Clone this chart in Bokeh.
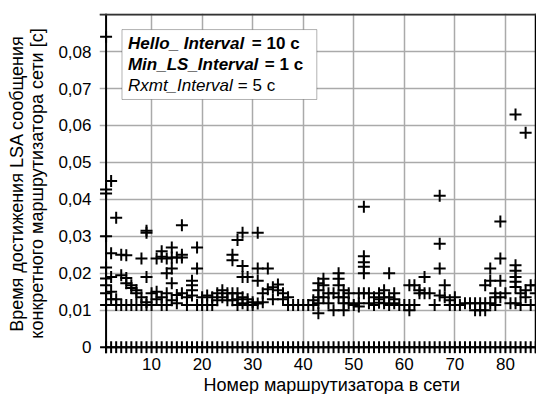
from bokeh.plotting import figure
from bokeh.models import (FixedTicker, CustomJSTickFormatter, Span, BoxAnnotation,
                          Label, ColumnDataSource, Title)
from bokeh.embed import file_html
from bokeh.resources import INLINE

# ---------------- data ----------------
router_ids = list(range(1, 87))
# non-zero LSA arrival times per router (s); every router also has a 0 value
delays = {
    1: [0.084, 0.0427, 0.0416, 0.030, 0.0216, 0.0186, 0.0168, 0.0146, 0.0114],
    2: [0.045, 0.0254, 0.019, 0.015, 0.013],
    3: [0.035, 0.013, 0.0114],
    4: [0.025, 0.0195, 0.0114],
    5: [0.0249, 0.0187, 0.0173, 0.0114],
    6: [0.0168, 0.016, 0.0114],
    7: [0.0154, 0.0146, 0.0114],
    8: [0.024, 0.0135, 0.0114],
    9: [0.0315, 0.031, 0.019, 0.0122, 0.0114],
    10: [0.0146, 0.0114],
    11: [0.024, 0.015, 0.013],
    12: [0.026, 0.0245, 0.0135, 0.0114],
    13: [0.024, 0.020, 0.0146, 0.0114],
    14: [0.027, 0.0243, 0.0213, 0.0173, 0.0127],
    15: [0.0243, 0.0141, 0.0119],
    16: [0.033, 0.025, 0.0243, 0.0146],
    17: [0.0135, 0.0114],
    18: [0.018, 0.0168, 0.0154, 0.014],
    19: [0.027, 0.0213, 0.0114],
    20: [0.0135, 0.0114],
    21: [0.014, 0.0114],
    22: [0.0135, 0.0114],
    23: [0.0146, 0.0127],
    24: [0.0154, 0.0135],
    25: [0.0146, 0.0127],
    26: [0.025, 0.0235, 0.0146, 0.0127],
    27: [0.029, 0.0146, 0.013, 0.0114],
    28: [0.031, 0.022, 0.019, 0.0135, 0.0119],
    29: [0.019, 0.013, 0.0114],
    30: [0.0122, 0.0114],
    31: [0.031, 0.0213, 0.018, 0.0118],
    32: [0.0146, 0.0122],
    33: [0.0213, 0.0157],
    34: [0.0162, 0.013],
    35: [0.017, 0.0154],
    36: [0.0146, 0.013],
    37: [0.0135, 0.0114],
    38: [0.0114],
    39: [0.0114],
    40: [0.0114],
    41: [0.0114],
    42: [0.0127, 0.0114],
    43: [0.0173, 0.0154, 0.0135, 0.0119, 0.0092],
    44: [0.0185, 0.0168, 0.0135],
    45: [0.0146, 0.0119],
    46: [0.0146, 0.010],
    47: [0.020, 0.0185, 0.0168, 0.0135],
    48: [0.0154, 0.0135, 0.0119, 0.010],
    49: [0.0146, 0.0119],
    50: [0.0114],
    51: [0.0146, 0.0119, 0.011],
    52: [0.038, 0.0246, 0.023, 0.0218, 0.020, 0.0146],
    53: [0.0146, 0.0119],
    54: [0.0135, 0.0114],
    55: [0.0146, 0.013, 0.012],
    56: [0.0154, 0.0135, 0.0119],
    57: [0.020, 0.0135, 0.0114],
    58: [0.0146, 0.013, 0.0119],
    59: [0.0114],
    60: [0.0114],
    61: [0.0168, 0.0114, 0.010],
    62: [0.0168, 0.0114],
    63: [0.0154, 0.0146],
    64: [0.019, 0.0146],
    65: [0.0146],
    66: [0.0114],
    67: [0.041, 0.028, 0.0213, 0.014],
    68: [0.0168, 0.0135],
    69: [0.0127, 0.0114],
    70: [0.0135, 0.0114],
    71: [0.0114],
    72: [0.0119],
    73: [0.0119],
    74: [0.0119, 0.010],
    75: [0.0119, 0.010],
    76: [0.0168, 0.0119, 0.010],
    77: [0.0213, 0.018, 0.0119],
    78: [0.0146, 0.0135, 0.0114],
    79: [0.034, 0.024, 0.018, 0.0135],
    80: [0.0146],
    81: [0.0119],
    82: [0.063, 0.0222, 0.0207, 0.019, 0.0177, 0.0163, 0.0119],
    83: [0.0146, 0.0114],
    84: [0.058, 0.0154, 0.0135],
    85: [0.0168, 0.0114],
    86: [0.0168, 0.0146],
}
x_ticks = [10, 20, 30, 40, 50, 60, 70, 80]
y_ticks = [0, 0.01, 0.02, 0.03, 0.04, 0.05, 0.06, 0.07, 0.08]
x_label = "Номер маршрутизатора в сети"
y_label = "Время достижения LSA сообщения\nконкретного маршрутизатора сети [c]"

xs, ys = [], []
for r in router_ids:
    xs.append(r)
    ys.append(0.0)
    for v in delays[r]:
        xs.append(r)
        ys.append(v)
src = ColumnDataSource(dict(x=xs, y=ys))

FONT = "Liberation Sans"

p = figure(frame_width=437, frame_height=340,
           x_range=(-0.3, 86.15), y_range=(-0.0017, 0.0903),
           output_backend="svg", toolbar_location=None,
           min_border_left=99, min_border_right=0, min_border_top=13,
           min_border_bottom=10)
p.outline_line_color = None
p.background_fill_color = "white"

# grid
p.xaxis.ticker = FixedTicker(ticks=x_ticks)
p.yaxis.ticker = FixedTicker(ticks=y_ticks)
p.xgrid.ticker = FixedTicker(ticks=x_ticks)
p.ygrid.ticker = FixedTicker(ticks=y_ticks[1:] + [0.09])
for g in (p.xgrid[0], p.ygrid[0]):
    g.grid_line_color = "#aaaaaa"
    g.grid_line_width = 1.5

p.yaxis.formatter = CustomJSTickFormatter(
    code="return tick == 0 ? '0' : tick.toFixed(2).replace('.', ',');")

for ax in (p.xaxis[0], p.yaxis[0]):
    ax.axis_line_color = None
    ax.major_tick_line_color = None
    ax.minor_tick_line_color = None
    ax.major_label_text_font = FONT
    ax.major_label_text_font_size = "17px"
    ax.major_label_text_color = "black"
    ax.axis_label_text_font = FONT
    ax.axis_label_text_font_size = "18px"
    ax.axis_label_text_font_style = "normal"
    ax.axis_label_text_color = "black"

p.xaxis.major_label_standoff = -2
p.yaxis.major_label_standoff = 2
p.yaxis.axis_label = y_label
p.yaxis.axis_label_standoff = 8
p.yaxis.axis_label_text_line_height = 1.0

# x axis title (slightly right of frame centre, as in the original)
p.add_layout(Title(text=x_label, align="left", offset=104, standoff=1,
                   text_font=FONT, text_font_size="18px", text_font_style="normal",
                   text_color="black"), "below")

# frame lines
p.add_layout(Span(location=1, dimension="height", line_color="black", line_width=2))
p.add_layout(Span(location=86, dimension="height", line_color="black", line_width=2))
p.add_layout(Span(location=0.09, dimension="width", line_color="#333333", line_width=2))

p.scatter("x", "y", source=src, marker="cross", size=12, line_color="black",
          line_width=2)

# legend-like info box
p.add_layout(BoxAnnotation(left=4.15, right=42.69, bottom=0.06703, top=0.08595,
                           fill_color="white", fill_alpha=1.0,
                           line_color="black", line_width=1, level="overlay"))

def lab(x, y, text, style):
    p.add_layout(Label(x=x, y=y, text=text, text_font=FONT, text_font_size="17px",
                       text_font_style=style, text_baseline="middle",
                       text_align="left", text_color="black", level="overlay"))

lab(5.33, 0.08216, "Hello_ Interval", "bold italic")
lab(29.84, 0.08216, "= 10 c", "bold")
lab(5.33, 0.07649, "Min_LS_Interval", "bold italic")
lab(32.41, 0.07649, "= 1 c", "bold")
lab(5.33, 0.07081, "Rxmt_Interval", "italic")
lab(27.07, 0.07081, "= 5 c", "normal")

open("out.html", "w").write(file_html(p, INLINE))
